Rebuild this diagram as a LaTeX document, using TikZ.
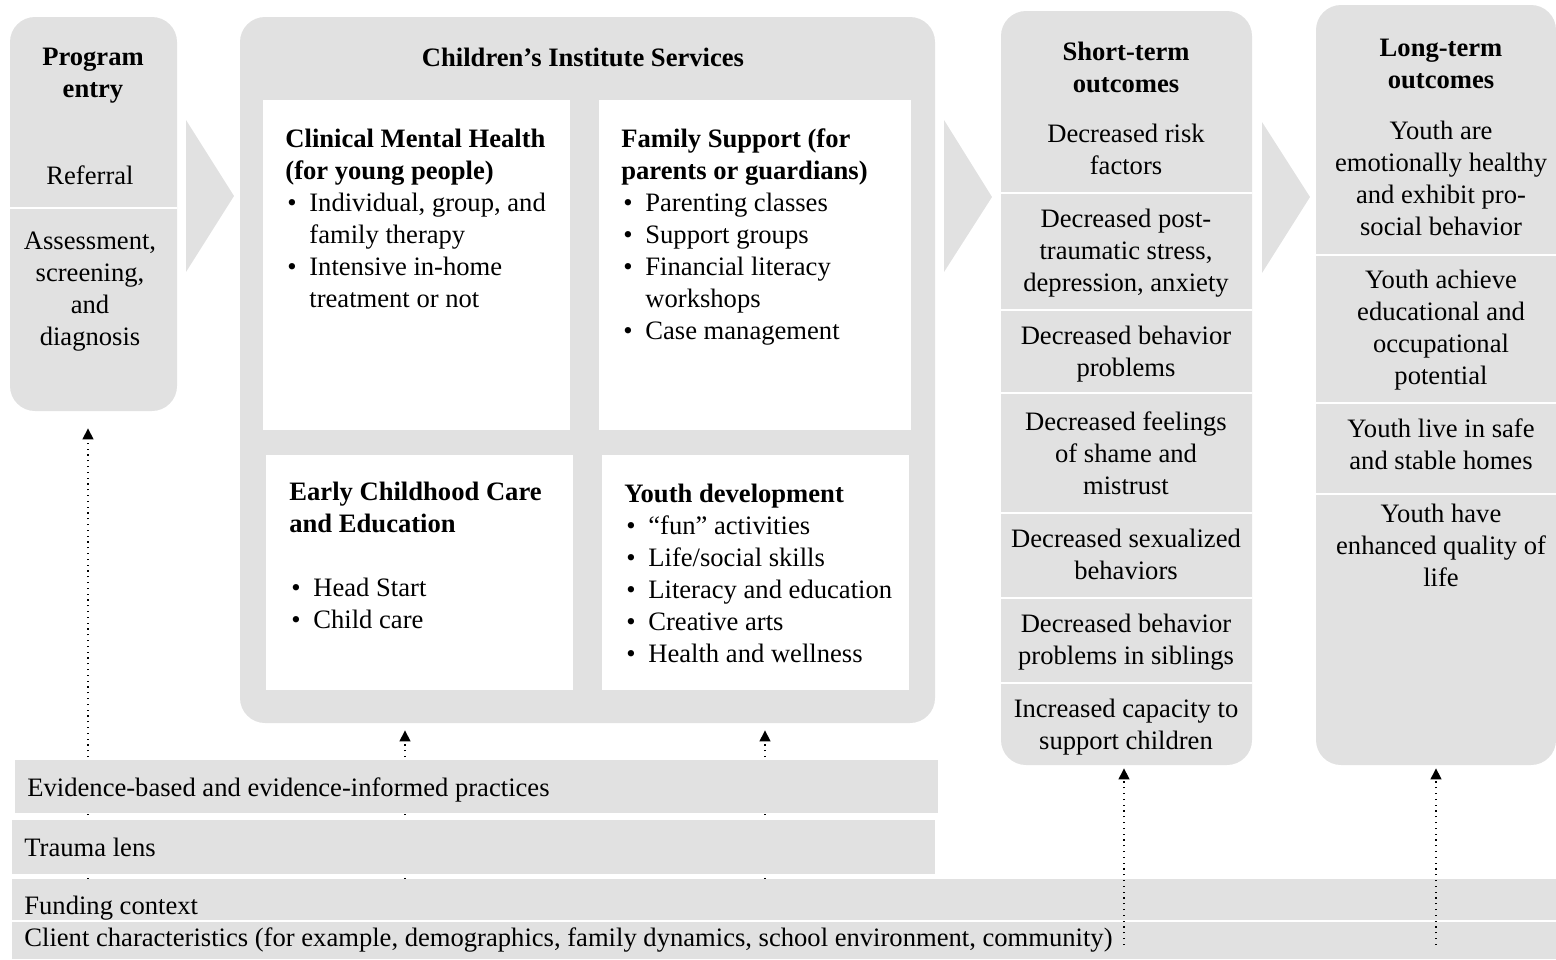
\documentclass[tikz,border=0pt]{standalone}
\usepackage{fontspec}
\setmainfont{Liberation Serif}
\usetikzlibrary{arrows.meta,fit}
\definecolor{panelgray}{HTML}{E1E1E1}
\newcommand{\mybul}{\makebox[12pt][l]{\kern1pt•}}
\newcommand{\myind}{\hspace*{12pt}}
\begin{document}
\begin{tikzpicture}[x=0.5pt,y=-0.5pt,
  panel/.style={fill=panelgray,draw=none,rounded corners=12.5pt,inner sep=0pt},
  bar/.style={fill=panelgray,draw=none,inner sep=0pt},
  card/.style={fill=white,draw=none,inner sep=0pt},
  chev/.style={fill=panelgray,draw=none},
  sep/.style={draw=white,line width=1.2pt},
  txt/.style={inner sep=0pt,font=\fontsize{13.3pt}{16pt}\selectfont,align=center,anchor=base},
  htxt/.style={inner sep=0pt,font=\fontsize{13.3pt}{16pt}\selectfont\bfseries,align=center,anchor=base},
  ltxt/.style={inner sep=0pt,font=\fontsize{13.3pt}{16pt}\selectfont,align=left,anchor=base west},
  dotarr/.style={line width=0.65pt,dash pattern=on 0.65pt off 2.25pt,-{Triangle[width=5.5pt,length=5.5pt]}},
]
\useasboundingbox (0,0) rectangle (1556,959);
\clip (0,0) rectangle (1556,959);

% main panels
\node[panel,fit={(10,17)(177,411)}] (entry) {};
\node[panel,fit={(240,17)(935,723)}] (cis) {};
\node[panel,fit={(1001,11)(1252,765)}] (short) {};
\node[panel,fit={(1316,5)(1556,765)}] (long) {};

% chevrons
\fill[chev] (186,120) -- (234,196) -- (186,272) -- cycle;
\fill[chev] (944,120) -- (992,197) -- (944,272) -- cycle;
\fill[chev] (1262,122) -- (1310,197) -- (1262,273) -- cycle;

% white cards
\node[card,fit={(263,100)(570,430)}] (clin) {};
\node[card,fit={(599,100)(911,430)}] (fam) {};
\node[card,fit={(266,455)(573,690)}] (early) {};
\node[card,fit={(602,455)(909,690)}] (youth) {};

% dividers
\draw[sep] (10,208) -- (177,208);
\foreach \yy in {193,310,393,513,598,683} \draw[sep] (1001,\yy) -- (1252,\yy);
\foreach \yy in {255,403,494} \draw[sep] (1316,\yy) -- (1556,\yy);

% program entry text (node base = last line)
\node[htxt] (entryT) at (93,97) {Program\\entry};
\node[txt] (referral) at (90,184) {Referral};
\node[txt] (assess) at (90,345) {Assessment,\\screening,\\and\\diagnosis};

% services
\node[htxt] (cisT) at (583,66) {Children’s Institute Services};
\node[ltxt] (clinT) at (285,307) {\textbf{Clinical Mental Health}\\
\textbf{(for young people)}\\
\mybul Individual, group, and\\
\myind family therapy\\
\mybul Intensive in-home\\
\myind treatment or not};
\node[ltxt] (famT) at (621,339) {\textbf{Family Support (for}\\
\textbf{parents or guardians)}\\
\mybul Parenting classes\\
\mybul Support groups\\
\mybul Financial literacy\\
\myind workshops\\
\mybul Case management};
\node[ltxt] (earlyT) at (289,628) {\textbf{Early Childhood Care}\\
\textbf{and Education}\\[16pt]
\mybul Head Start\\
\mybul Child care};
\node[ltxt] (youthT) at (624,662) {\textbf{Youth development}\\
\mybul “fun” activities\\
\mybul Life/social skills\\
\mybul Literacy and education\\
\mybul Creative arts\\
\mybul Health and wellness};

% short-term outcomes
\node[htxt] (shortT) at (1126,92) {Short-term\\outcomes};
\node[txt] (st1) at (1126,174) {Decreased risk\\factors};
\node[txt] (st2) at (1126,291) {Decreased post-\\traumatic stress,\\depression, anxiety};
\node[txt] (st3) at (1126,376) {Decreased behavior\\problems};
\node[txt] (st4) at (1126,494) {Decreased feelings\\of shame and\\mistrust};
\node[txt] (st5) at (1126,579) {Decreased sexualized\\behaviors};
\node[txt] (st6) at (1126,664) {Decreased behavior\\problems in siblings};
\node[txt] (st7) at (1126,749) {Increased capacity to\\support children};

% long-term outcomes
\node[htxt] (longT) at (1441,88) {Long-term\\outcomes};
\node[txt] (lt1) at (1441,235) {Youth are\\emotionally healthy\\and exhibit pro-\\social behavior};
\node[txt] (lt2) at (1441,384) {Youth achieve\\educational and\\occupational\\potential};
\node[txt] (lt3) at (1441,469) {Youth live in safe\\and stable homes};
\node[txt] (lt4) at (1441,586) {Youth have\\enhanced quality of\\life};

% dotted arrows behind the context bars
\coordinate (s1) at (88,879);
\coordinate (s2) at (405,879);
\coordinate (s3) at (765,879);
\draw[dotarr,shorten >=8.5pt] (s1) -- (entry.south -| s1);
\draw[dotarr,shorten >=3.5pt] (s2) -- (cis.south -| s2);
\draw[dotarr,shorten >=3.5pt] (s3) -- (cis.south -| s3);

% context bars
\node[bar,fit={(15,760)(938,813)}] (evid) {};
\node[bar,fit={(12,820)(935,874)}] (trauma) {};
\node[bar,fit={(12,879)(1556,920)}] (fund) {};
\node[bar,fit={(12,922)(1556,959)}] (client) {};
\node[ltxt] (evidT) at (27,796) {Evidence-based and evidence-informed practices};
\node[ltxt] (traumaT) at (24,856) {Trauma lens};
\node[ltxt] (fundT) at (24,914) {Funding context};
\node[ltxt] (clientT) at (24,946) {Client characteristics (for example, demographics, family dynamics, school environment, community)};

% dotted arrows over the bars
\coordinate (s4) at (1124,945);
\coordinate (s5) at (1436,945);
\draw[dotarr,shorten >=1.5pt] (s4) -- (short.south -| s4);
\draw[dotarr,shorten >=1.5pt] (s5) -- (long.south -| s5);
\end{tikzpicture}
\end{document}
